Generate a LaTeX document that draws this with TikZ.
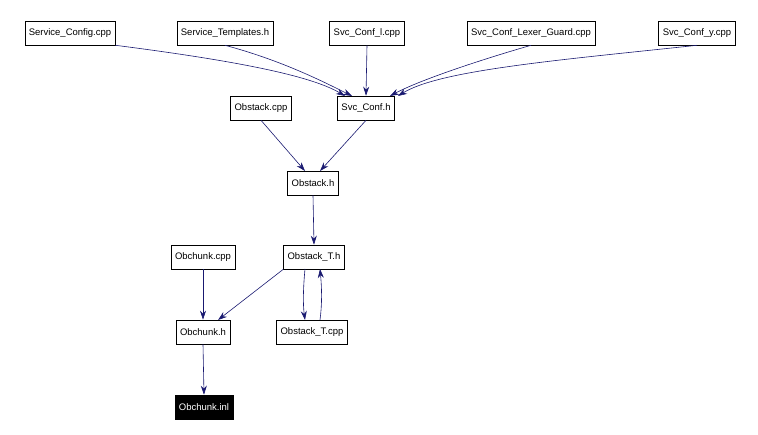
\documentclass[tikz,border=0pt]{standalone}
\usepackage{fontspec}
\setmainfont{Liberation Sans}
\usetikzlibrary{arrows.meta}
\begin{document}
\begin{tikzpicture}[x=1pt,y=-1pt,
  box/.style={draw=black,fill=white,line width=0.6pt,minimum height=24pt,inner xsep=4pt,font=\fontsize{9.5}{11}\selectfont},
  dark/.style={box,fill=black,text=white},
  e/.style={draw=midnightblue,line width=0.6pt,-{Stealth[length=9pt,width=6pt]}}]
\definecolor{midnightblue}{RGB}{25,25,112}
\useasboundingbox (0,0) rectangle (758,435);
\node[box] (sc) at (70,33) {Service\_Config.cpp};
\node[box] (st) at (225,33) {Service\_Templates.h};
\node[box] (sl) at (367,33) {Svc\_Conf\_l.cpp};
\node[box] (slg) at (531,33) {Svc\_Conf\_Lexer\_Guard.cpp};
\node[box] (sy) at (697,33) {Svc\_Conf\_y.cpp};
\node[box] (oc) at (261,108) {Obstack.cpp};
\node[box] (sh) at (366,108) {Svc\_Conf.h};
\node[box] (oh) at (313,183) {Obstack.h};
\node[box] (cc) at (203,257) {Obchunk.cpp};
\node[box] (oth) at (314,257) {Obstack\_T.h};
\node[box] (ch) at (203,332) {Obchunk.h};
\node[box] (otc) at (312,332) {Obstack\_T.cpp};
\node[dark] (ci) at (204,407) {Obchunk.inl};
\draw[e] (sc.south east) .. controls (230,60) and (310,75) .. (345,96);
\draw[e] (st.south) .. controls (280,60) and (320,80) .. (352,96);
\draw[e] (sl.south) -- (sh.north);
\draw[e] (slg.south) .. controls (480,60) and (420,80) .. (390,96);
\draw[e] (sy.south) .. controls (560,60) and (440,70) .. (398,96);
\draw[e] (oc.south) -- (305,171);
\draw[e] (sh.south) -- (320,171);
\draw[e] (oh.south) -- (oth.north);
\draw[e] (cc.south) -- (ch.north);
\draw[e] (oth.south west) -- (218,320);
\draw[e] (305,269) .. controls (303,290) and (303,305) .. (305,320);
\draw[e] (320,320) .. controls (322,305) and (322,290) .. (320,269);
\draw[e] (ch.south) -- (ci.north);
\end{tikzpicture}
\end{document}
